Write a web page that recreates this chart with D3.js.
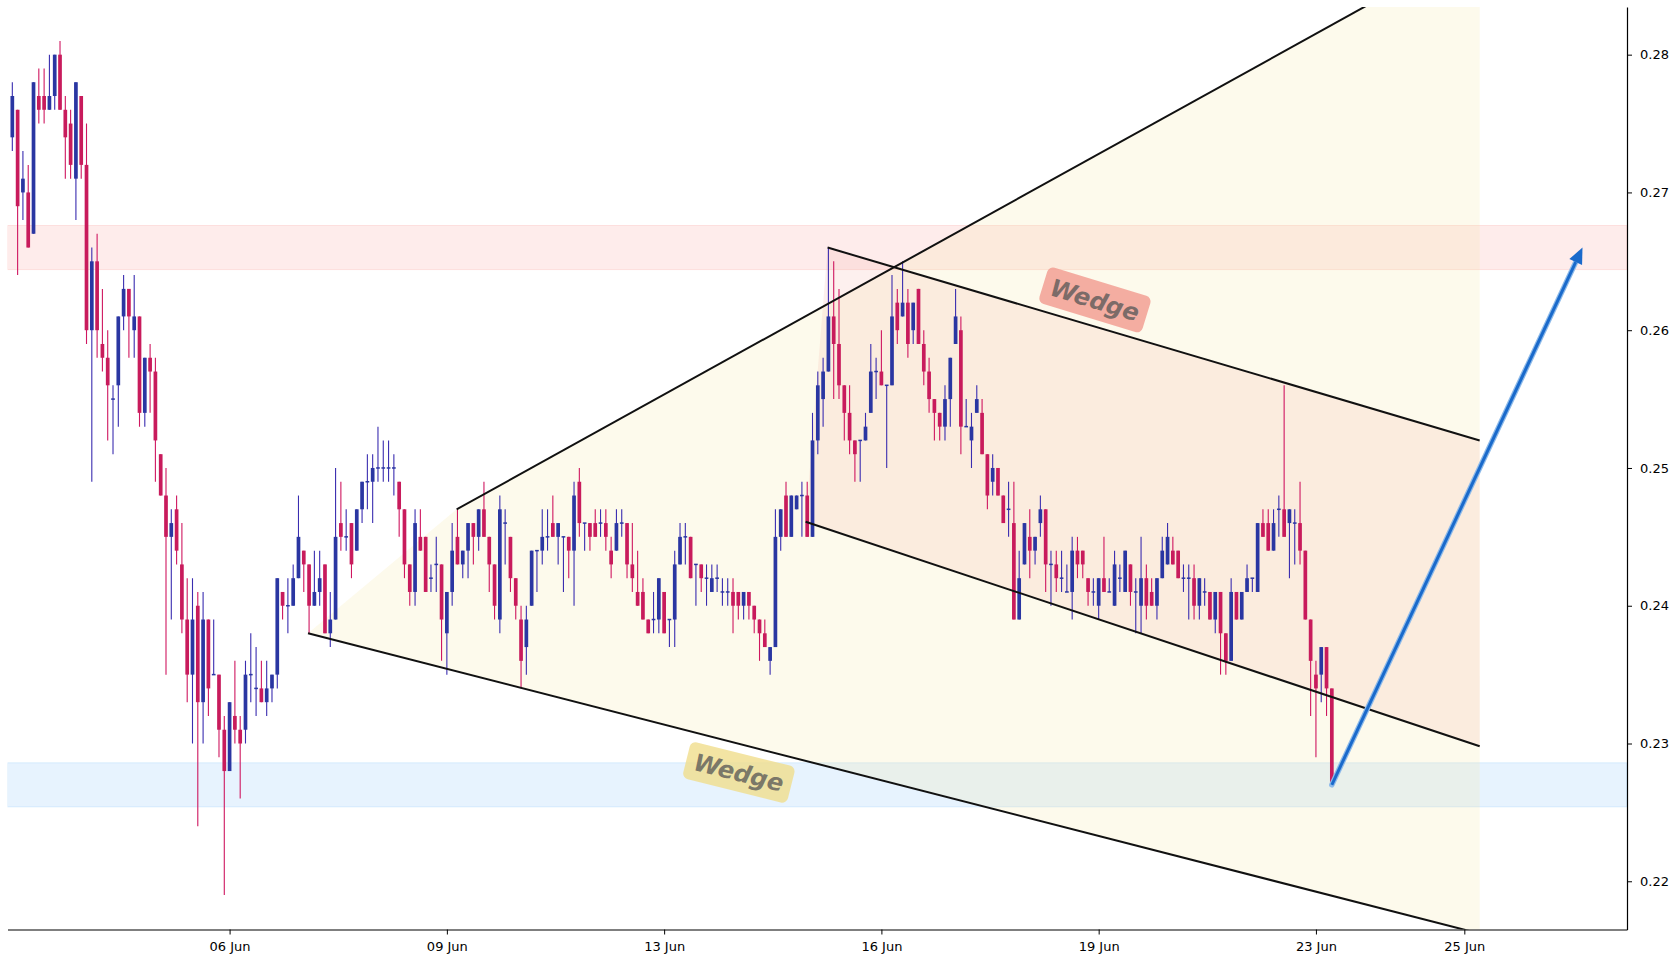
<!DOCTYPE html>
<html><head><meta charset="utf-8">
<script src="https://cdn.jsdelivr.net/npm/d3@7"></script>
<style>body{margin:0;background:#fff}svg{display:block}text{font-family:"DejaVu Sans",sans-serif}</style>
</head><body><svg id="c" width="1680" height="960"></svg>
<script>
// ---- data (price per candle, index-based time axis) ----
const opens=[.274,.276,.270,.270,.267,.277,.277,.276,.277,.280,.276,.275,.271,.277,.272,.260,.265,.259,.258,.255,.256,.261,.263,.260,.261,.254,.258,.257,.251,.248,.245,.247,.243,.239,.235,.240,.233,.239,.235,.235,.231,.228,.232,.231,.231,.235,.234,.234,.233,.234,.235,.241,.240,.240,.242,.244,.243,.240,.241,.243,.238,.239,.246,.245,.246,.244,.247,.249,.249,.250,.250,.250,.250,.249,.247,.243,.241,.245,.245,.242,.243,.243,.238,.241,.245,.243,.244,.246,.245,.247,.245,.243,.239,.246,.245,.242,.239,.237,.240,.244,.244,.245,.246,.245,.245,.245,.244,.249,.246,.246,.246,.246,.246,.244,.244,.246,.246,.243,.241,.241,.239,.239,.239,.241,.239,.239,.243,.245,.245,.243,.243,.242,.241,.242,.241,.241,.241,.241,.240,.241,.240,.239,.238,.236,.237,.245,.248,.245,.247,.248,.248,.245,.252,.255,.257,.261,.259,.256,.254,.252,.252,.252,.254,.257,.257,.256,.256,.262,.261,.262,.260,.263,.259,.257,.255,.254,.253,.255,.259,.260,.253,.252,.254,.254,.251,.249,.250,.248,.247,.246,.239,.243,.245,.244,.246,.247,.243,.243,.242,.241,.241,.244,.244,.242,.241,.240,.242,.241,.240,.242,.241,.243,.241,.240,.242,.241,.240,.242,.243,.244,.244,.242,.242,.242,.240,.241,.241,.239,.241,.238,.236,.241,.239,.241,.242,.241,.246,.246,.244,.247,.247,.246,.246,.246,.244,.239,.235,.235,.237,.234];
const highs=[.278,.276,.273,.272,.278,.279,.279,.280,.280,.281,.277,.276,.278,.277,.275,.266,.267,.263,.260,.256,.261,.264,.263,.264,.261,.258,.259,.258,.251,.250,.247,.248,.246,.242,.242,.241,.241,.239,.239,.235,.232,.233,.236,.232,.236,.238,.237,.236,.236,.235,.242,.241,.242,.243,.248,.244,.243,.244,.244,.243,.241,.250,.249,.247,.246,.247,.249,.251,.251,.253,.252,.252,.251,.249,.247,.243,.247,.247,.245,.243,.245,.243,.241,.246,.247,.244,.246,.246,.247,.249,.245,.243,.248,.247,.245,.242,.240,.240,.244,.244,.247,.247,.248,.246,.245,.245,.249,.250,.246,.246,.247,.247,.247,.245,.247,.247,.246,.246,.244,.242,.239,.241,.242,.241,.239,.244,.246,.246,.245,.243,.243,.243,.243,.243,.242,.242,.242,.241,.241,.241,.240,.239,.239,.237,.247,.247,.249,.248,.248,.249,.249,.254,.257,.258,.266,.265,.263,.256,.256,.252,.252,.254,.259,.258,.260,.256,.264,.263,.265,.263,.262,.263,.260,.258,.255,.254,.256,.258,.263,.261,.255,.254,.256,.255,.251,.251,.250,.248,.249,.249,.244,.246,.247,.245,.248,.247,.244,.244,.244,.243,.245,.245,.244,.242,.242,.242,.245,.242,.244,.243,.244,.243,.242,.245,.243,.242,.242,.245,.246,.245,.244,.243,.243,.243,.242,.242,.241,.241,.241,.238,.242,.241,.241,.243,.242,.246,.247,.247,.247,.248,.256,.247,.247,.249,.244,.239,.236,.237,.237,.234];
const lows=[.273,.264,.268,.266,.267,.275,.275,.276,.276,.276,.271,.271,.268,.271,.259,.249,.258,.257,.252,.251,.253,.260,.258,.258,.253,.253,.254,.249,.248,.235,.239,.243,.238,.233,.230,.224,.230,.232,.235,.229,.219,.228,.230,.226,.230,.233,.232,.233,.232,.233,.234,.239,.238,.240,.242,.241,.238,.240,.240,.238,.237,.239,.244,.244,.242,.244,.246,.247,.246,.249,.249,.249,.248,.245,.242,.240,.240,.244,.241,.241,.241,.236,.235,.240,.243,.242,.242,.243,.244,.245,.241,.239,.238,.243,.241,.239,.234,.235,.240,.241,.243,.244,.245,.243,.241,.242,.240,.245,.244,.244,.245,.245,.244,.242,.244,.245,.242,.241,.240,.239,.238,.238,.238,.238,.237,.237,.243,.243,.242,.240,.241,.240,.241,.241,.240,.240,.238,.239,.239,.239,.238,.236,.237,.235,.237,.244,.245,.245,.247,.245,.245,.245,.251,.253,.257,.255,.255,.252,.251,.249,.249,.252,.254,.255,.256,.250,.256,.259,.261,.258,.259,.259,.256,.254,.252,.252,.252,.253,.259,.251,.253,.250,.254,.251,.247,.248,.248,.246,.245,.239,.239,.243,.242,.243,.245,.241,.240,.241,.241,.241,.239,.242,.242,.240,.240,.239,.241,.241,.240,.241,.241,.240,.238,.238,.239,.240,.239,.242,.243,.243,.242,.241,.239,.239,.239,.240,.239,.238,.235,.235,.236,.239,.239,.241,.241,.241,.245,.244,.244,.245,.245,.242,.243,.243,.239,.232,.229,.233,.232,.227];
const closes=[.277,.269,.271,.266,.278,.276,.276,.277,.280,.276,.274,.272,.278,.272,.260,.265,.260,.258,.256,.255,.261,.263,.261,.261,.254,.258,.257,.252,.248,.245,.246,.244,.239,.235,.239,.233,.239,.234,.235,.231,.228,.233,.231,.230,.235,.235,.234,.233,.234,.235,.242,.240,.240,.242,.245,.243,.240,.241,.242,.238,.239,.245,.245,.245,.243,.247,.249,.249,.250,.250,.250,.250,.250,.247,.243,.241,.246,.244,.241,.242,.243,.239,.241,.244,.243,.244,.246,.245,.247,.245,.243,.240,.247,.246,.242,.240,.236,.239,.244,.244,.245,.245,.245,.246,.245,.244,.248,.246,.246,.245,.245,.246,.245,.243,.246,.246,.243,.242,.240,.239,.238,.239,.242,.238,.239,.243,.245,.245,.242,.243,.242,.242,.242,.242,.241,.241,.240,.240,.241,.240,.239,.238,.237,.237,.245,.247,.245,.248,.248,.248,.245,.252,.256,.257,.261,.259,.256,.254,.252,.251,.252,.253,.257,.257,.256,.256,.261,.260,.262,.259,.262,.259,.257,.255,.254,.253,.255,.258,.261,.253,.253,.253,.255,.251,.248,.250,.248,.246,.247,.239,.242,.246,.244,.245,.247,.243,.243,.242,.242,.241,.244,.243,.243,.241,.241,.242,.241,.241,.243,.242,.244,.241,.241,.242,.240,.240,.242,.244,.245,.243,.242,.242,.242,.240,.242,.241,.239,.241,.238,.236,.241,.239,.241,.242,.242,.246,.245,.244,.246,.247,.245,.247,.246,.244,.239,.236,.234,.237,.234,.227];

// x tick positions (candle index) and labels
const tickIndex=[41,82,123,164,205,246,274];
const tickLabels=["06 Jun","09 Jun","13 Jun","16 Jun","19 Jun","23 Jun","25 Jun"];
const yTicks=[0.22,0.23,0.24,0.25,0.26,0.27,0.28];

// zones [low, high]
const resistanceZone=[0.2644,0.2676];
const supportZone=[0.2254,0.2286];
// pattern lines: [index, price]
const bigUpper=[[83.85,0.2470],[276.9,0.2881]];
const bigLower=[[55.8,0.2380],[276.9,0.2162]];
const smallUpper=[[153.85,0.2660],[276.9,0.2520]];
const smallLower=[[149.7,0.2461],[276.9,0.2298]];
const projection=[[249,0.227],[296.3,0.266]];
const labels=[{text:"Wedge",at:[204.3,0.2622],rot:17,box:"#f19a8f"},{text:"Wedge",at:[137.1,0.2279],rot:14,box:"#f0dd8c"}];

// ---- layout ----
const L=7.5,R=1627,T=7,B=929.5;
const x=d3.scaleLinear().domain([-0.91,304.7]).range([L,R]);
const y=d3.scaleLinear().domain([0.2165,0.28346]).range([B,T]);
const svg=d3.select("#c");
svg.append("defs").append("clipPath").attr("id","clip").append("rect")
  .attr("x",L).attr("y",T).attr("width",R-L).attr("height",B-T);
const g=svg.append("g").attr("clip-path","url(#clip)");

// zones
[[resistanceZone,"rgba(244,67,54,0.10)","rgba(244,67,54,0.12)"],[supportZone,"rgba(33,150,243,0.11)","rgba(33,150,243,0.13)"]].forEach(([z,f,s])=>{
  g.append("rect").attr("x",L).attr("width",R-L).attr("y",y(z[1])).attr("height",y(z[0])-y(z[1]))
   .attr("fill",f).attr("stroke",s).attr("stroke-width",1);
});

// wedge fills
const P=p=>[x(p[0]),y(p[1])];
g.append("path").attr("d",d3.line()([P(bigLower[0]),P(bigUpper[0]),P(bigUpper[1]),P(bigLower[1])])+"Z")
  .attr("fill","#f5e6a0").attr("fill-opacity",0.2);
g.append("path").attr("d",d3.line()([P(smallLower[0]),P(smallUpper[0]),P(smallUpper[1]),P(smallLower[1])])+"Z")
  .attr("fill","rgb(245,180,170)").attr("fill-opacity",0.2);

// candles
const idx=d3.range(opens.length);
const bw=3.7;
const up=i=>closes[i]>=opens[i];
const cg=g.append("g");
cg.selectAll("line.w").data(idx).join("line").attr("class","w")
  .attr("x1",i=>x(i)).attr("x2",i=>x(i)).attr("y1",i=>y(highs[i])).attr("y2",i=>y(lows[i]))
  .attr("stroke",i=>up(i)?"#3a2db0":"#cf1760").attr("stroke-width",1.1);
cg.selectAll("rect.b").data(idx).join("rect").attr("class","b")
  .attr("x",i=>x(i)-bw/2).attr("width",bw)
  .attr("y",i=>{const a=y(Math.max(opens[i],closes[i])),b=y(Math.min(opens[i],closes[i]));return b-a<1.5?(a+b)/2-0.75:a;})
  .attr("height",i=>Math.max(1.5,Math.abs(y(opens[i])-y(closes[i]))))
  .attr("fill",i=>up(i)?"#2a36a2":"#c81b5c");

// pattern lines
[bigUpper,bigLower,smallUpper,smallLower].forEach(s=>{
  g.append("path").attr("d",d3.line()(s.map(P))).attr("stroke","#111").attr("stroke-width",2).attr("fill","none");
});

// labels
labels.forEach(lb=>{
  const [cx,cy]=P(lb.at);
  const lg=svg.append("g").attr("transform",`translate(${cx},${cy}) rotate(${lb.rot})`);
  const t=lg.append("text").attr("text-anchor","middle").attr("dy","0.36em")
    .attr("font-size",24).attr("font-weight","bold").attr("font-style","italic").text(lb.text);
  const w=t.node().getComputedTextLength();
  lg.insert("rect","text").attr("x",-w/2-8).attr("y",-19).attr("width",w+16).attr("height",38)
    .attr("rx",6).attr("fill",lb.box).attr("fill-opacity",0.8);
  t.attr("fill","#555").attr("fill-opacity",0.75);
});

// projection arrow
const a0=P(projection[0]),a1=P(projection[1]);
const ang=Math.atan2(a1[1]-a0[1],a1[0]-a0[0]);
const hl=16,hw=7;
const base=[a1[0]-hl*Math.cos(ang),a1[1]-hl*Math.sin(ang)];
svg.append("line").attr("x1",a0[0]).attr("y1",a0[1]).attr("x2",base[0]).attr("y2",base[1])
  .attr("stroke","#8fbbea").attr("stroke-width",5.5).attr("stroke-linecap","round");
svg.append("line").attr("x1",a0[0]).attr("y1",a0[1]).attr("x2",base[0]).attr("y2",base[1])
  .attr("stroke","#1a6acb").attr("stroke-width",3);
svg.append("path").attr("d",d3.line()([a1,[base[0]+hw*Math.sin(ang),base[1]-hw*Math.cos(ang)],[base[0]-hw*Math.sin(ang),base[1]+hw*Math.cos(ang)]])+"Z")
  .attr("fill","#1a6acb");

// axes
const xa=svg.append("g").attr("transform",`translate(0,${B})`)
  .call(d3.axisBottom(x).tickValues(tickIndex).tickFormat((d,i)=>tickLabels[i]).tickSize(5).tickSizeOuter(0).tickPadding(7));
const ya=svg.append("g").attr("transform",`translate(${R},0)`)
  .call(d3.axisRight(y).tickValues(yTicks).tickFormat(d3.format(".2f")).tickSize(5).tickSizeOuter(0).tickPadding(8));
[xa,ya].forEach(a=>{a.selectAll("text").attr("font-size",13).attr("font-family","DejaVu Sans").attr("fill","#000");
  a.select(".domain").attr("stroke","#000").attr("stroke-width",1.2);a.selectAll(".tick line").attr("stroke","#000");});
</script></body></html>
